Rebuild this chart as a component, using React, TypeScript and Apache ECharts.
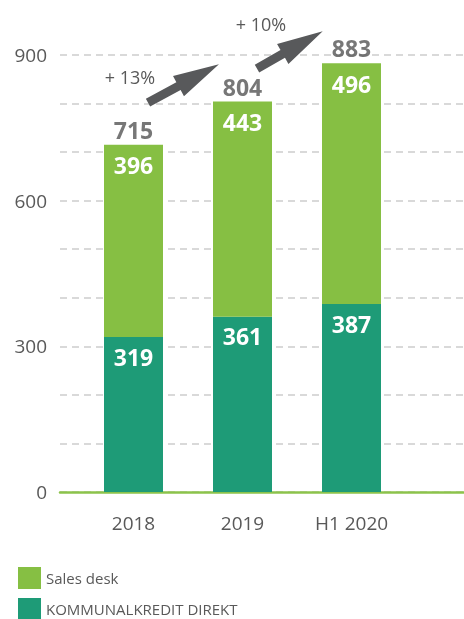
import React, { useEffect, useRef } from "react";
import * as echarts from "echarts";

const categories = ["2018", "2019", "H1 2020"];
const kommunalkreditDirekt = [319, 361, 387];
const salesDesk = [396, 443, 496];
const yTickLabels = [0, 300, 600, 900];
const growthLabels = ["+ 13%", "+ 10%"];

const FONT = "'Open Sans', 'DejaVu Sans', sans-serif";
const GRAY = "#595959";
const LIGHT = "#86BF43";
const DARK = "#1E9B77";

// annotation anchors: [category index, offset in bands, value]
const arrowAnchors = [
  { tail: [0, 0.133, 802], tip: [1, -0.216, 881] },
  { tail: [1, 0.133, 872], tip: [2, -0.264, 949] },
];
const growthAnchors = [
  [0, -0.032, 855],
  [1, 0.17, 964],
];

export default function App() {
  const ref = useRef<HTMLDivElement>(null);
  useEffect(() => {
    if (!ref.current) return;
    const chart = echarts.init(ref.current, null, { renderer: "svg" });
    const totals = salesDesk.map((v, i) => v + kommunalkreditDirekt[i]);
    chart.setOption({
      animation: false,
      grid: [
        { left: 60, right: 0, top: 55, bottom: 127 },
        { left: 79, width: 327, top: 55, bottom: 127 },
      ],
      xAxis: [
        {
          gridIndex: 0,
          type: "value",
          min: 0,
          max: 1,
          axisLabel: { show: false },
          axisTick: { show: false },
          splitLine: { show: false },
          axisLine: { show: true, lineStyle: { color: "#8CC34B", width: 2.5 } },
        },
        {
          gridIndex: 1,
          type: "category",
          data: categories,
          axisLine: { show: false },
          axisTick: { show: false },
          axisLabel: { color: GRAY, fontSize: 19, fontFamily: FONT, margin: 21 },
        },
      ],
      yAxis: [
        {
          gridIndex: 0,
          type: "value",
          min: 0,
          max: 900,
          interval: 100,
          axisLine: { show: false },
          axisTick: { show: false },
          axisLabel: {
            color: GRAY,
            fontSize: 19,
            fontFamily: FONT,
            margin: 13,
            formatter: (v: number) => (yTickLabels.includes(v) ? String(v) : ""),
          },
          splitLine: { lineStyle: { color: "#D9D9D9", width: 2, type: [7, 5] } },
        },
        {
          gridIndex: 1,
          type: "value",
          min: 0,
          max: 900,
          interval: 100,
          show: false,
          splitLine: { show: false },
        },
      ],
      legend: {
        orient: "vertical",
        left: 18,
        top: 567,
        height: 90,
        padding: 0,
        itemWidth: 23,
        itemHeight: 22,
        itemGap: 9,
        icon: "rect",
        data: ["Sales desk", "KOMMUNALKREDIT DIREKT"],
        textStyle: { color: GRAY, fontSize: 15, fontFamily: FONT, padding: [7, 0, 0, 0] },
      },
      series: [
        {
          name: "KOMMUNALKREDIT DIREKT",
          type: "bar",
          stack: "total",
          xAxisIndex: 1,
          yAxisIndex: 1,
          barWidth: 59,
          data: kommunalkreditDirekt,
          itemStyle: { color: DARK },
          z: 3,
          label: {
            show: true,
            position: "insideTop",
            distance: 8,
            color: "#fff",
            fontSize: 23,
            fontWeight: "bold",
            fontFamily: FONT,
          },
        },
        {
          name: "Sales desk",
          type: "bar",
          stack: "total",
          xAxisIndex: 1,
          yAxisIndex: 1,
          barWidth: 59,
          data: salesDesk,
          itemStyle: { color: LIGHT },
          z: 3,
          label: {
            show: true,
            position: "insideTop",
            distance: 9,
            color: "#fff",
            fontSize: 23,
            fontWeight: "bold",
            fontFamily: FONT,
          },
        },
        {
          name: "total",
          type: "scatter",
          xAxisIndex: 1,
          yAxisIndex: 1,
          data: totals,
          symbolSize: 1,
          itemStyle: { color: "rgba(0,0,0,0)" },
          z: 4,
          label: {
            show: true,
            position: "top",
            distance: 3,
            color: "#555555",
            fontSize: 23,
            fontWeight: "bold",
            fontFamily: FONT,
          },
        },
      ],
    });

    const finder = { xAxisIndex: 1, yAxisIndex: 1 };
    const c0 = chart.convertToPixel(finder, [0, 0]) as number[];
    const c1 = chart.convertToPixel(finder, [1, 0]) as number[];
    const band = c1[0] - c0[0];
    const toPx = (a: number[]) => {
      const p = chart.convertToPixel(finder, [a[0], a[2]]) as number[];
      return [p[0] + a[1] * band, p[1]];
    };
    const s = 4.5, h = 11.5, L = 46;
    const arrows = arrowAnchors.map((a) => {
      const T = toPx(a.tail);
      const P = toPx(a.tip);
      const dx = P[0] - T[0], dy = P[1] - T[1];
      const len = Math.hypot(dx, dy);
      const ux = dx / len, uy = dy / len;
      const nx = -uy, ny = ux;
      const B = [P[0] - ux * L, P[1] - uy * L];
      const pts = [
        [T[0] + nx * s, T[1] + ny * s],
        [B[0] + nx * s, B[1] + ny * s],
        [B[0] + nx * h, B[1] + ny * h],
        [P[0], P[1]],
        [B[0] - nx * h, B[1] - ny * h],
        [B[0] - nx * s, B[1] - ny * s],
        [T[0] - nx * s, T[1] - ny * s],
      ];
      return { type: "polygon", shape: { points: pts }, style: { fill: "#58595B" }, z: 10 };
    });
    const texts = growthAnchors.map((a, i) => {
      const p = toPx(a);
      return {
        type: "text",
        x: p[0],
        y: p[1],
        z: 10,
        style: {
          text: growthLabels[i],
          fill: GRAY,
          fontSize: 18,
          fontFamily: FONT,
          align: "center",
          verticalAlign: "middle",
        },
      };
    });
    chart.setOption({ graphic: [...arrows, ...texts] });
    return () => chart.dispose();
  }, []);
  return (
    <div
      ref={ref}
      style={{ position: "fixed", left: 0, top: 0, width: 464, height: 619 }}
    />
  );
}
